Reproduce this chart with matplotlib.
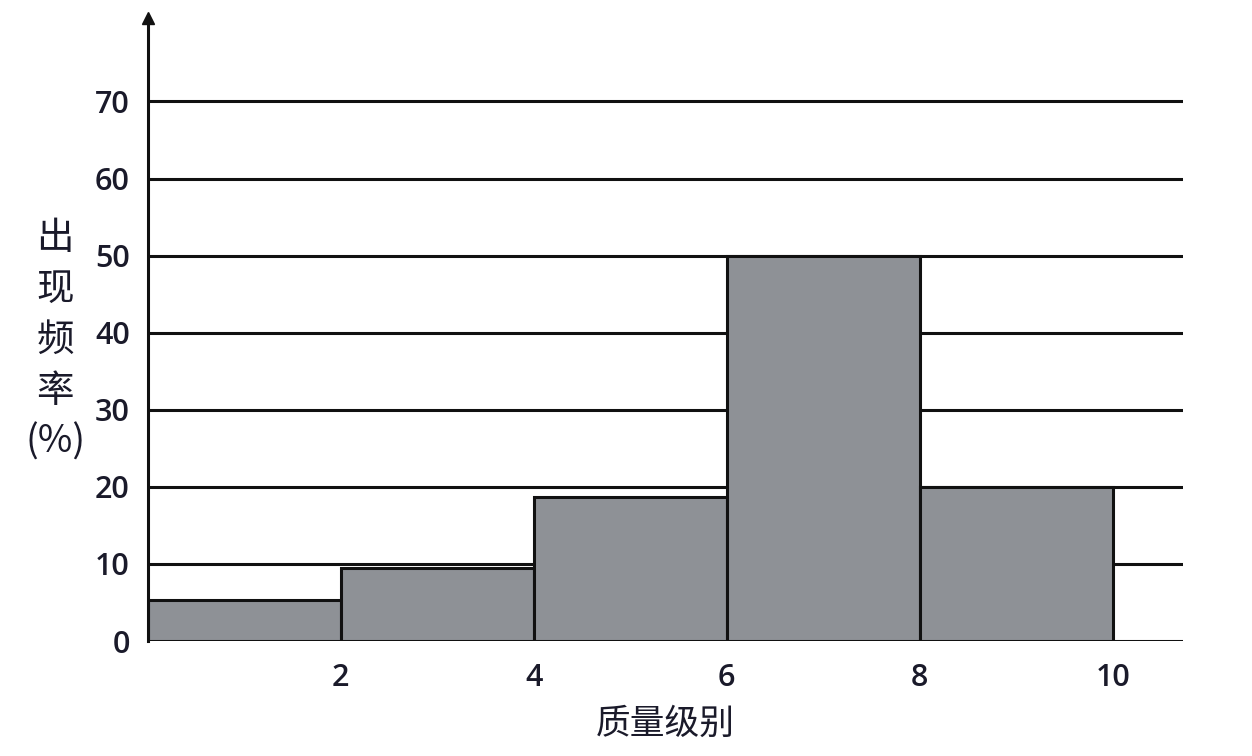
import numpy as np
import matplotlib.pyplot as plt

plt.rcParams['font.family'] = ['Open Sans', 'Noto Sans CJK SC', 'DejaVu Sans']

# histogram data: quality level bins and frequency (%)
bin_edges = [0, 2, 4, 6, 8, 10]
freq = [5.3, 9.5, 18.7, 50.0, 20.0]
y_ticks = [0, 10, 20, 30, 40, 50, 60, 70]
x_ticks = [2, 4, 6, 8, 10]
x_label = '质量级别'
y_label = '出\n现\n频\n率\n(%)'

fig = plt.figure(figsize=(12.52, 7.56), dpi=100)
ax = fig.add_axes([0.118, 0.152, 0.827, 0.824])

# horizontal grid lines
for y in y_ticks:
    ax.axhline(y, color='#111111', lw=2.2, zorder=1)

widths = np.diff(bin_edges)
ax.bar(bin_edges[:-1], freq, width=widths, align='edge', color='#8e9196',
       edgecolor='#111111', linewidth=2.2, zorder=2)

ax.set_xlim(0, 10.73)
ax.set_ylim(0, 80.8)
ax.set_yticks(y_ticks)
ax.set_xticks(x_ticks)
ax.tick_params(length=0, labelsize=22, colors='#1a1a2a', pad=13)
ax.tick_params(axis='x', pad=16)
for lbl in ax.get_xticklabels() + ax.get_yticklabels():
    lbl.set_fontweight('semibold')

for s in ['top', 'right', 'bottom']:
    ax.spines[s].set_visible(False)
ax.spines['left'].set_linewidth(2.2)
ax.spines['left'].set_color('#111111')

# arrow head on the y axis
ax.plot([0], [1], marker='^', markersize=9, color='#111111',
        transform=ax.transAxes, clip_on=False, zorder=5)

ax.set_xlabel(x_label, fontsize=25, family=['Noto Sans CJK SC'], color='#1a1a2a',
              labelpad=10, fontweight='medium')
fig.text(0.044, 0.55, y_label, fontsize=27, family=['Noto Sans CJK SC'],
         color='#1a1a2a', ha='center', va='center', linespacing=1.4,
         fontweight='medium')

fig.savefig('out.png', dpi=100, facecolor='white')
